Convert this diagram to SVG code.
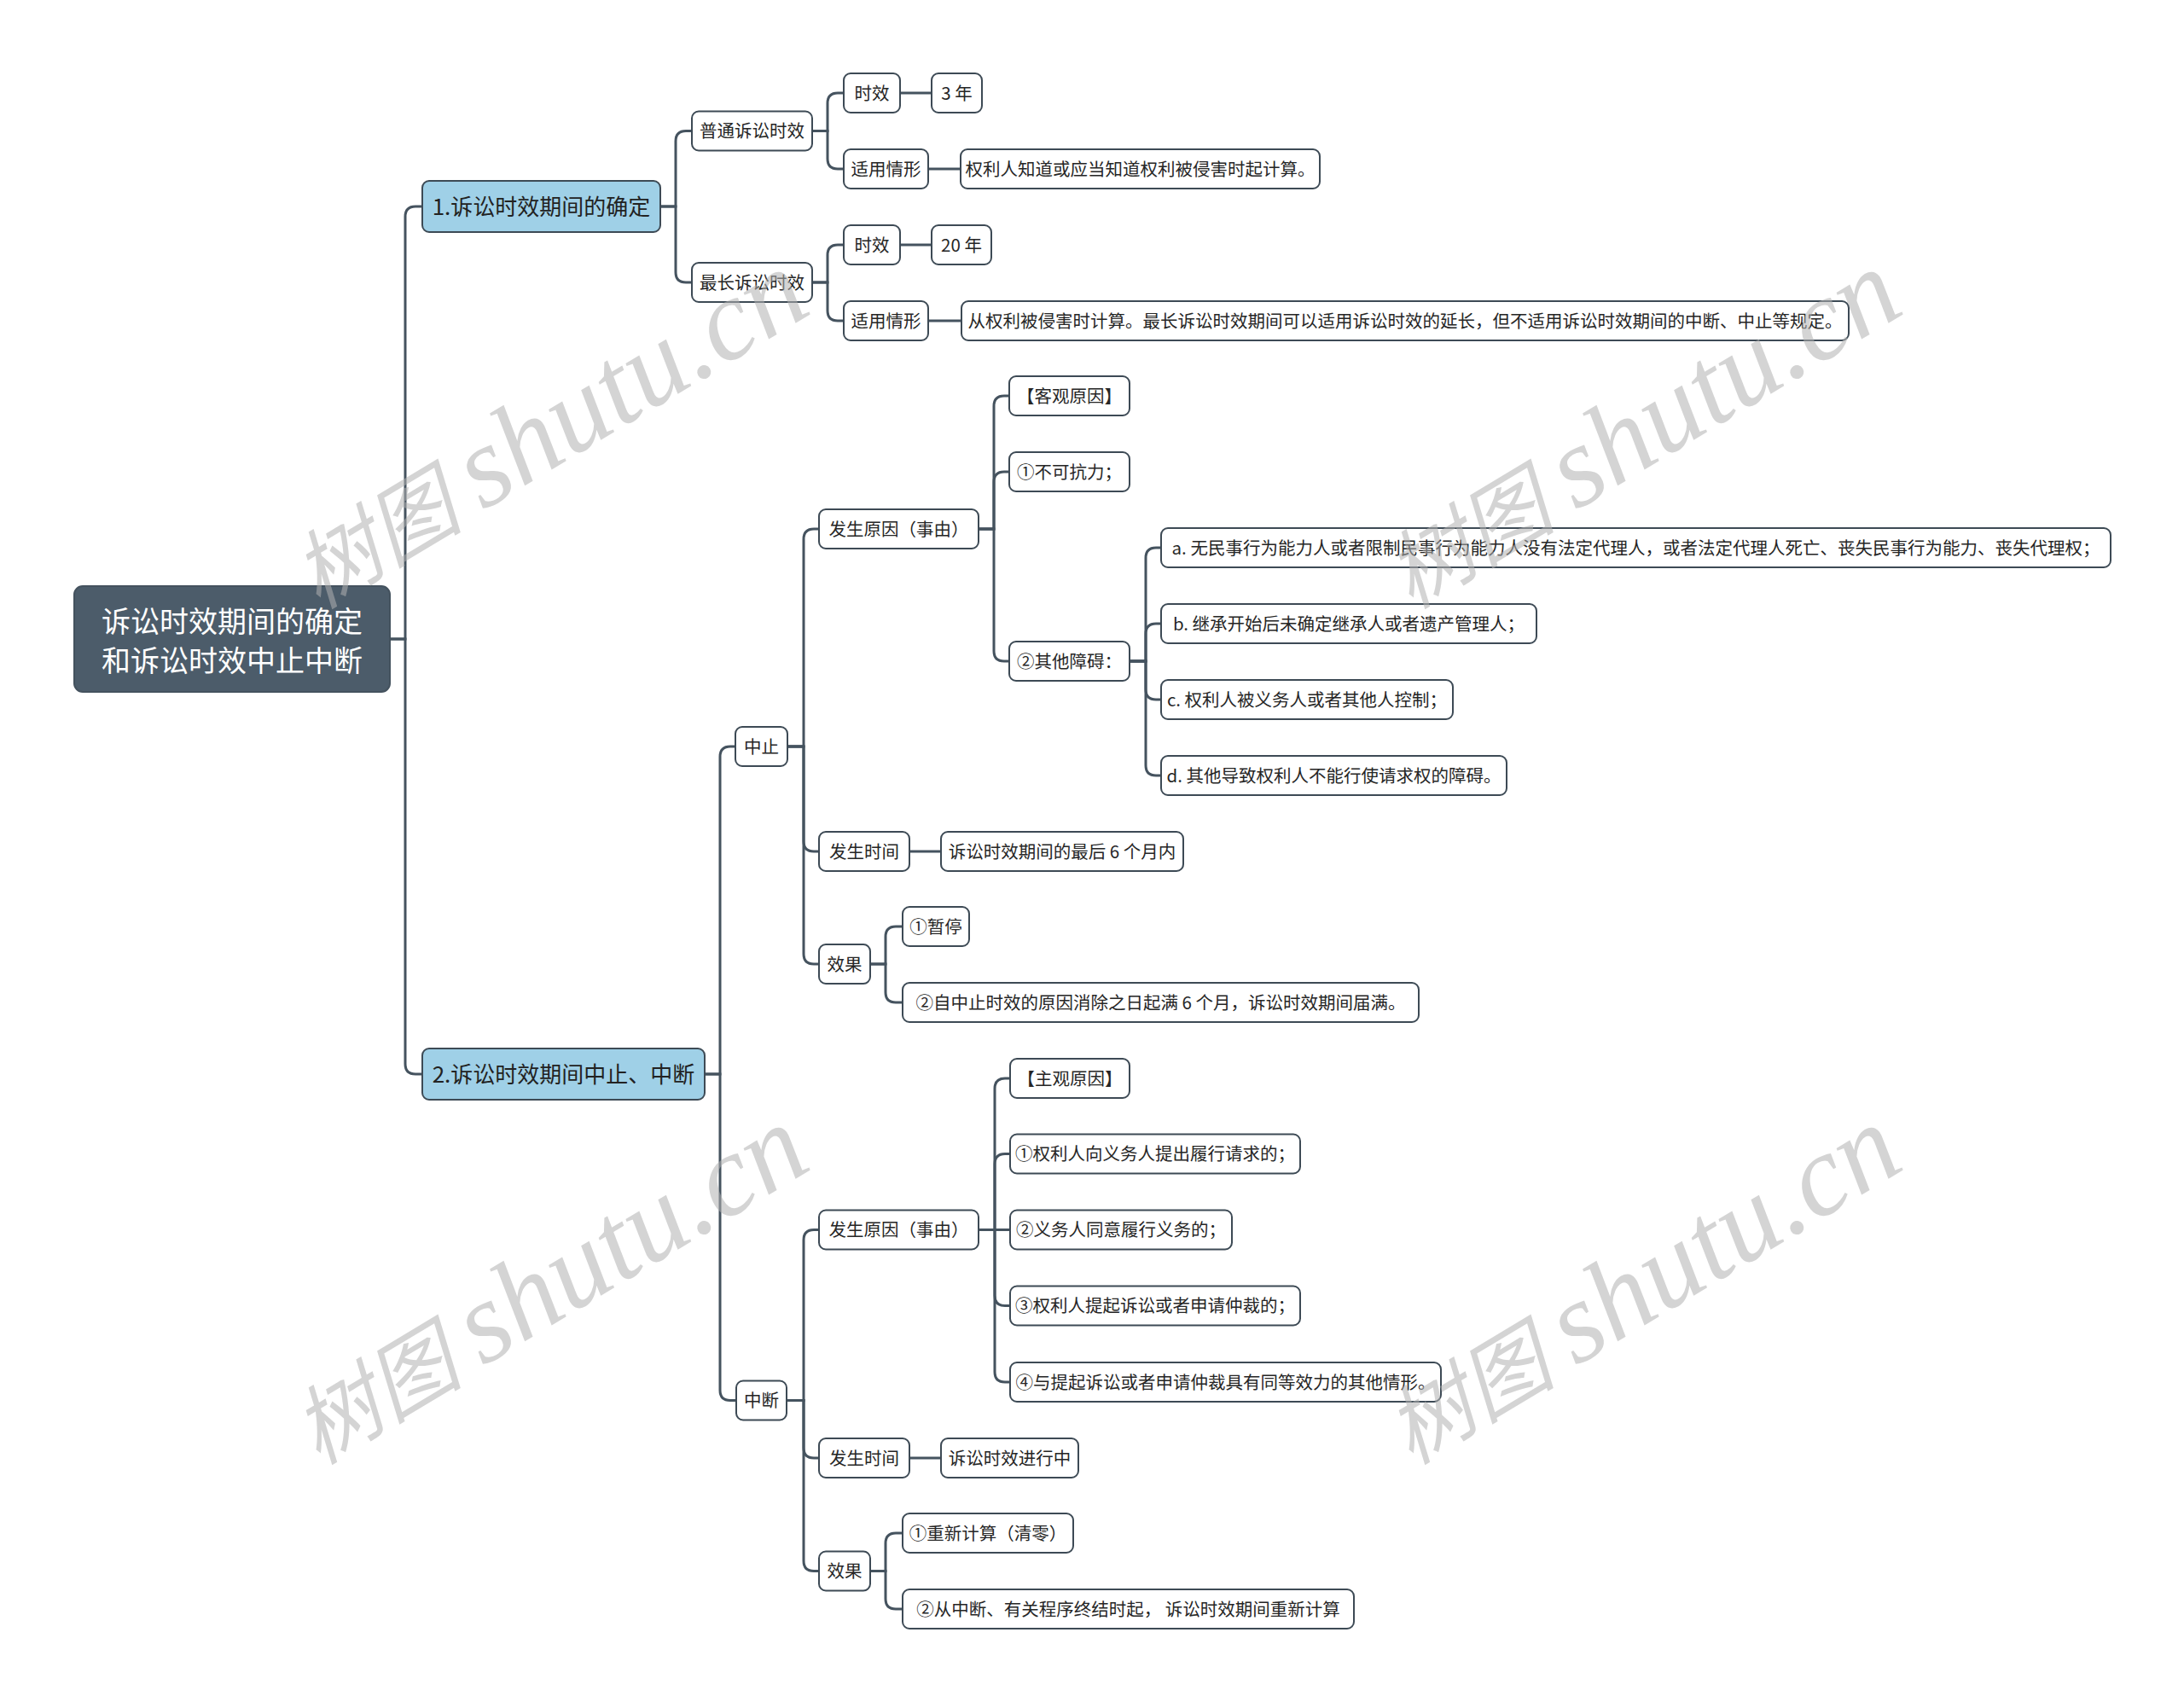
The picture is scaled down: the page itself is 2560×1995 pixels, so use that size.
<svg xmlns="http://www.w3.org/2000/svg" width="2560" height="1995" viewBox="0 0 2560 1995">
<style>
.n rect{fill:#ffffff;stroke:#3d4a55;stroke-width:2}
.n text{font-family:"Noto Sans CJK SC","Noto Sans",sans-serif;font-size:20.5px;fill:#262626;text-anchor:middle}
.b rect{fill:#9fd0e7;stroke:#3d4a55;stroke-width:2}
.b text{font-family:"Noto Sans CJK SC","Noto Sans",sans-serif;font-size:26px;fill:#222;text-anchor:middle}
.r rect{fill:#4c5c6a;stroke:#44525e;stroke-width:2}
.r text{font-family:"Noto Sans CJK SC","Noto Sans",sans-serif;font-size:34px;fill:#ffffff;text-anchor:middle}
#connectors path{fill:none;stroke:#45535f;stroke-width:3}
.wm{font-family:"Liberation Serif","Noto Sans CJK SC",serif;font-style:italic;fill:#b0b0b0;fill-opacity:0.55}
</style>
<rect width="2560" height="1995" fill="#ffffff"/>
<g id="connectors">
<path d="M457 749 H475 V254 Q475 242 487 242 H495"/>
<path d="M457 749 H475 V1247 Q475 1259 487 1259 H495"/>
<path d="M774 242 H792 V165.5 Q792 153.5 804 153.5 H811"/>
<path d="M774 242 H792 V319 Q792 331 804 331 H811"/>
<path d="M952 153.5 H970 V121 Q970 109 982 109 H989"/>
<path d="M952 153.5 H970 V186 Q970 198 982 198 H989"/>
<path d="M952 331 H970 V299 Q970 287 982 287 H989"/>
<path d="M952 331 H970 V364 Q970 376 982 376 H989"/>
<path d="M1055 109 H1092"/>
<path d="M1088 198 H1126"/>
<path d="M1055 287 H1092"/>
<path d="M1088 376 H1127"/>
<path d="M826 1259 H844 V887 Q844 875 856 875 H862"/>
<path d="M826 1259 H844 V1629.5 Q844 1641.5 856 1641.5 H863"/>
<path d="M923 875 H942 V632 Q942 620 954 620 H960"/>
<path d="M923 875 H942 V986 Q942 998 954 998 H960"/>
<path d="M923 875 H942 V1118 Q942 1130 954 1130 H960"/>
<path d="M1147 620 H1165 V476 Q1165 464 1177 464 H1183"/>
<path d="M1147 620 H1165 V565 Q1165 553 1177 553 H1183"/>
<path d="M1147 620 H1165 V763 Q1165 775 1177 775 H1183"/>
<path d="M1324 775 H1343 V654 Q1343 642 1355 642 H1361"/>
<path d="M1324 775 H1343 V743 Q1343 731 1355 731 H1361"/>
<path d="M1324 775 H1343 V808 Q1343 820 1355 820 H1361"/>
<path d="M1324 775 H1343 V897 Q1343 909 1355 909 H1361"/>
<path d="M1066 998 H1103"/>
<path d="M1020 1130 H1038 V1098 Q1038 1086 1050 1086 H1058"/>
<path d="M1020 1130 H1038 V1163 Q1038 1175 1050 1175 H1058"/>
<path d="M922 1641.5 H942 V1453.5 Q942 1441.5 954 1441.5 H960"/>
<path d="M922 1641.5 H942 V1697 Q942 1709 954 1709 H960"/>
<path d="M922 1641.5 H942 V1829.5 Q942 1841.5 954 1841.5 H960"/>
<path d="M1147 1441.5 H1166 V1276 Q1166 1264 1178 1264 H1184"/>
<path d="M1147 1441.5 H1166 V1364.5 Q1166 1352.5 1178 1352.5 H1184"/>
<path d="M1147 1441.5 H1184"/>
<path d="M1147 1441.5 H1166 V1518.5 Q1166 1530.5 1178 1530.5 H1184"/>
<path d="M1147 1441.5 H1166 V1608 Q1166 1620 1178 1620 H1184"/>
<path d="M1066 1709 H1103"/>
<path d="M1020 1841.5 H1038 V1809 Q1038 1797 1050 1797 H1058"/>
<path d="M1020 1841.5 H1038 V1874 Q1038 1886 1050 1886 H1058"/>
</g>

<g id="root" class="r"><rect x="87" y="687" width="370" height="124" rx="10"/><text x="272" y="741">诉讼时效期间的确定</text><text x="272" y="787">和诉讼时效中止中断</text></g>

<g id="b1" class="b"><rect x="495" y="212" width="279" height="60" rx="8"/><text x="634.5" y="252">1.诉讼时效期间的确定</text></g>
<g id="b2" class="b"><rect x="495" y="1229" width="331" height="60" rx="8"/><text x="660.5" y="1269">2.诉讼时效期间中止、中断</text></g>

<g id="n-putong" class="n"><rect x="811" y="130.5" width="141" height="46" rx="8"/><text x="881.5" y="161.3">普通诉讼时效</text></g>
<g id="n-zuichang" class="n"><rect x="811" y="308" width="141" height="46" rx="8"/><text x="881.5" y="338.8">最长诉讼时效</text></g>
<g id="n-shixiao1" class="n"><rect x="989" y="86" width="66" height="46" rx="8"/><text x="1022" y="116.8">时效</text></g>
<g id="n-3nian" class="n"><rect x="1092" y="86" width="59" height="46" rx="8"/><text x="1121.5" y="116.8">3 年</text></g>
<g id="n-shiyong1" class="n"><rect x="989" y="175" width="99" height="46" rx="8"/><text x="1038.5" y="205.8">适用情形</text></g>
<g id="n-quanli" class="n"><rect x="1126" y="175" width="421" height="46" rx="8"/><text x="1336.5" y="205.8">权利人知道或应当知道权利被侵害时起计算。</text></g>
<g id="n-shixiao2" class="n"><rect x="989" y="264" width="66" height="46" rx="8"/><text x="1022" y="294.8">时效</text></g>
<g id="n-20nian" class="n"><rect x="1092" y="264" width="70" height="46" rx="8"/><text x="1127" y="294.8">20 年</text></g>
<g id="n-shiyong2" class="n"><rect x="989" y="353" width="99" height="46" rx="8"/><text x="1038.5" y="383.8">适用情形</text></g>
<g id="n-long" class="n"><rect x="1127" y="353" width="1040" height="46" rx="8"/><text x="1647" y="383.8">从权利被侵害时计算。最长诉讼时效期间可以适用诉讼时效的延长，但不适用诉讼时效期间的中断、中止等规定。</text></g>

<g id="n-zhongzhi" class="n"><rect x="862" y="852" width="61" height="46" rx="8"/><text x="892.5" y="882.8">中止</text></g>
<g id="n-yuanyin1" class="n"><rect x="960" y="597" width="187" height="46" rx="8"/><text x="1053.5" y="627.8">发生原因（事由）</text></g>
<g id="n-keguan" class="n"><rect x="1183" y="441" width="141" height="46" rx="8"/><text x="1253.5" y="471.8">【客观原因】</text></g>
<g id="n-bukekangli" class="n"><rect x="1183" y="530" width="141" height="46" rx="8"/><text x="1253.5" y="560.8">①不可抗力；</text></g>
<g id="n-qita" class="n"><rect x="1183" y="752" width="141" height="46" rx="8"/><text x="1253.5" y="782.8">②其他障碍：</text></g>
<g id="n-a" class="n"><rect x="1361" y="619" width="1113" height="46" rx="8"/><text x="1917.5" y="649.8">a. 无民事行为能力人或者限制民事行为能力人没有法定代理人，或者法定代理人死亡、丧失民事行为能力、丧失代理权；</text></g>
<g id="n-b" class="n"><rect x="1361" y="708" width="440" height="46" rx="8"/><text x="1581" y="738.8">b. 继承开始后未确定继承人或者遗产管理人；</text></g>
<g id="n-c" class="n"><rect x="1361" y="797" width="342" height="46" rx="8"/><text x="1532" y="827.8">c. 权利人被义务人或者其他人控制；</text></g>
<g id="n-d" class="n"><rect x="1361" y="886" width="405" height="46" rx="8"/><text x="1563.5" y="916.8">d. 其他导致权利人不能行使请求权的障碍。</text></g>
<g id="n-shijian1" class="n"><rect x="960" y="975" width="106" height="46" rx="8"/><text x="1013" y="1005.8">发生时间</text></g>
<g id="n-zuihou" class="n"><rect x="1103" y="975" width="284" height="46" rx="8"/><text x="1245" y="1005.8">诉讼时效期间的最后 6 个月内</text></g>
<g id="n-xiaoguo1" class="n"><rect x="960" y="1107" width="60" height="46" rx="8"/><text x="990" y="1137.8">效果</text></g>
<g id="n-zanting" class="n"><rect x="1058" y="1063" width="78" height="46" rx="8"/><text x="1097" y="1093.8">①暂停</text></g>
<g id="n-zizhongzhi" class="n"><rect x="1058" y="1152" width="605" height="46" rx="8"/><text x="1360.5" y="1182.8">②自中止时效的原因消除之日起满 6 个月，诉讼时效期间届满。</text></g>

<g id="n-zhongduan" class="n"><rect x="863" y="1618.5" width="59" height="46" rx="8"/><text x="892.5" y="1649.3">中断</text></g>
<g id="n-yuanyin2" class="n"><rect x="960" y="1418.5" width="187" height="46" rx="8"/><text x="1053.5" y="1449.3">发生原因（事由）</text></g>
<g id="n-zhuguan" class="n"><rect x="1184" y="1241" width="140" height="46" rx="8"/><text x="1254" y="1271.8">【主观原因】</text></g>
<g id="n-z1" class="n"><rect x="1184" y="1329.5" width="340" height="46" rx="8"/><text x="1354" y="1360.3">①权利人向义务人提出履行请求的；</text></g>
<g id="n-z2" class="n"><rect x="1184" y="1418.5" width="260" height="46" rx="8"/><text x="1314" y="1449.3">②义务人同意履行义务的；</text></g>
<g id="n-z3" class="n"><rect x="1184" y="1507.5" width="340" height="46" rx="8"/><text x="1354" y="1538.3">③权利人提起诉讼或者申请仲裁的；</text></g>
<g id="n-z4" class="n"><rect x="1184" y="1597" width="505" height="46" rx="8"/><text x="1436.5" y="1627.8">④与提起诉讼或者申请仲裁具有同等效力的其他情形。</text></g>
<g id="n-shijian2" class="n"><rect x="960" y="1686" width="106" height="46" rx="8"/><text x="1013" y="1716.8">发生时间</text></g>
<g id="n-jinxing" class="n"><rect x="1103" y="1686" width="161" height="46" rx="8"/><text x="1183.5" y="1716.8">诉讼时效进行中</text></g>
<g id="n-xiaoguo2" class="n"><rect x="960" y="1818.5" width="60" height="46" rx="8"/><text x="990" y="1849.3">效果</text></g>
<g id="n-chongxin" class="n"><rect x="1058" y="1774" width="200" height="46" rx="8"/><text x="1158" y="1804.8">①重新计算（清零）</text></g>
<g id="n-congzhongduan" class="n"><rect x="1058" y="1863" width="529" height="46" rx="8"/><text x="1322.5" y="1893.8">②从中断、有关程序终结时起， 诉讼时效期间重新计算</text></g>

<g id="watermarks">
<text class="wm" transform="translate(664,540) rotate(-31)" text-anchor="middle"><tspan font-size="100">树图 </tspan><tspan font-size="135">shutu.cn</tspan></text>
<text class="wm" transform="translate(1945,540) rotate(-31)" text-anchor="middle"><tspan font-size="100">树图 </tspan><tspan font-size="135">shutu.cn</tspan></text>
<text class="wm" transform="translate(664,1543) rotate(-31)" text-anchor="middle"><tspan font-size="100">树图 </tspan><tspan font-size="135">shutu.cn</tspan></text>
<text class="wm" transform="translate(1945,1543) rotate(-31)" text-anchor="middle"><tspan font-size="100">树图 </tspan><tspan font-size="135">shutu.cn</tspan></text>
</g>
</svg>
